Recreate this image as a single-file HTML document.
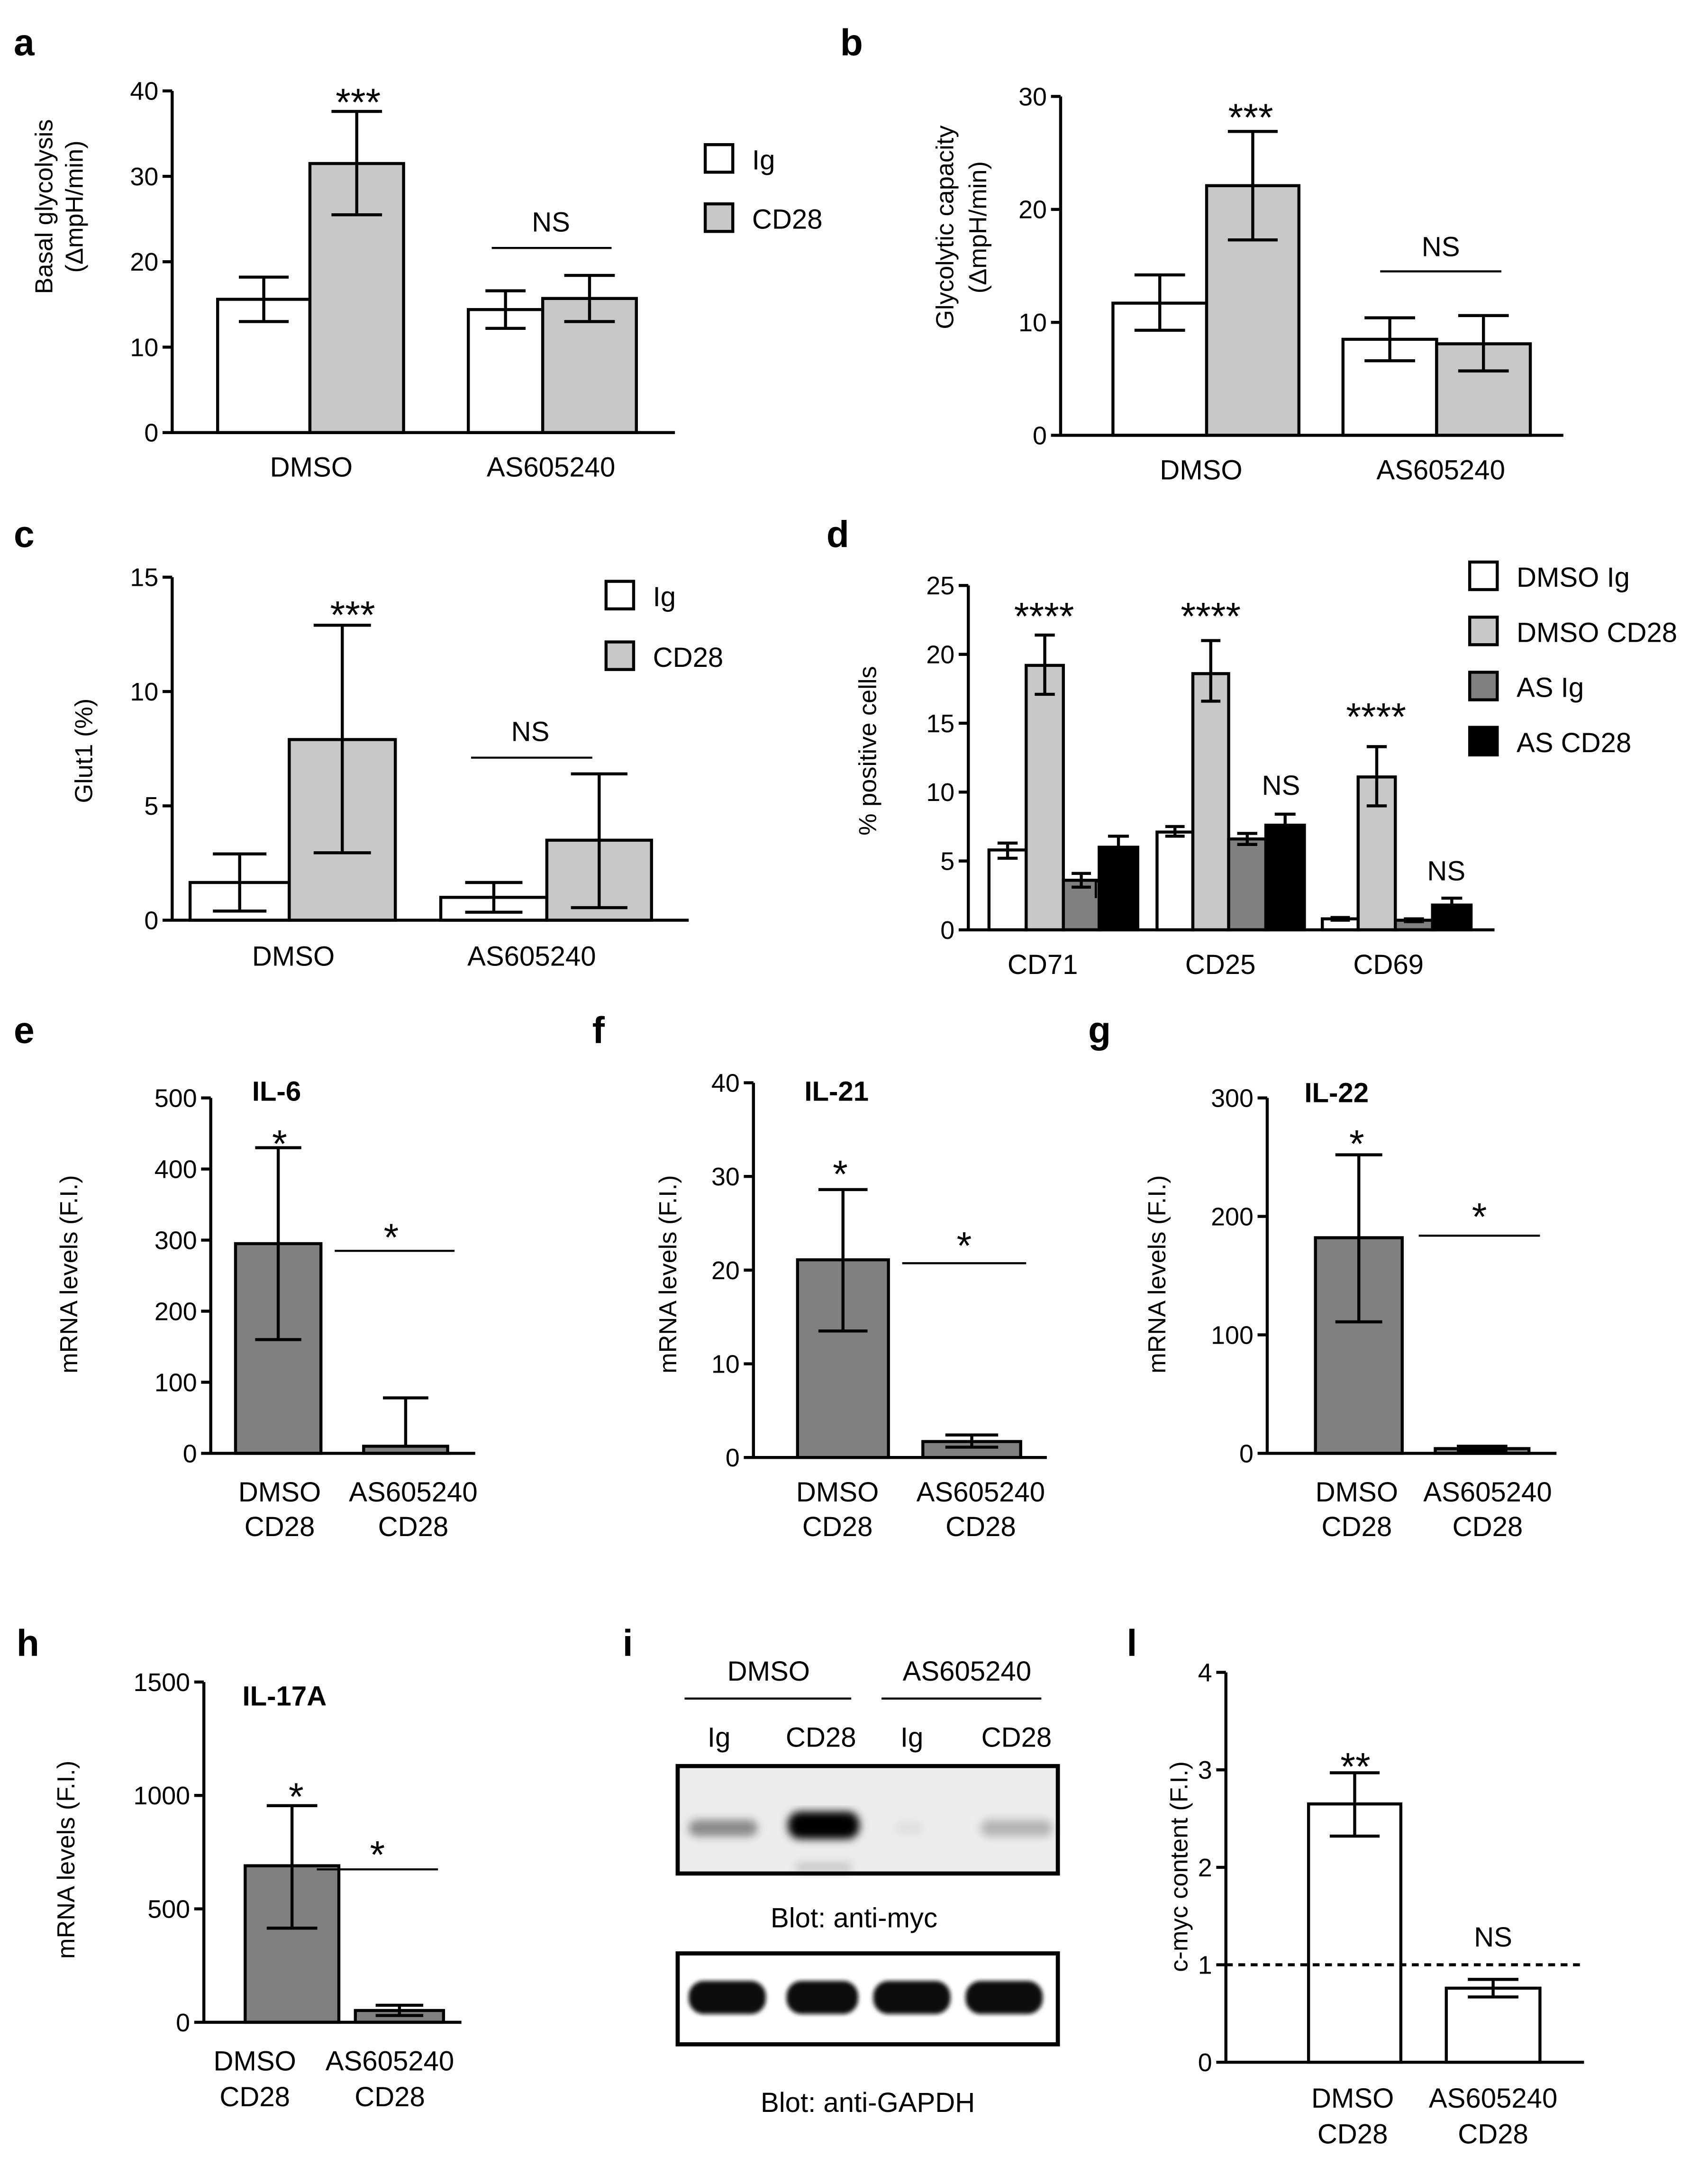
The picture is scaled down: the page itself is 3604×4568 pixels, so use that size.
<!DOCTYPE html>
<html><head><meta charset="utf-8"><style>
html,body{margin:0;padding:0;background:#fff}
svg{display:block}
text{font-family:"Liberation Sans",Arial,sans-serif;fill:#000}
</style></head><body>
<svg id="fig" width="3604" height="4568" viewBox="0 0 1240 1571.6" preserveAspectRatio="none" xmlns="http://www.w3.org/2000/svg">
<defs>
<filter id="blur3"><feGaussianBlur stdDeviation="3"/></filter>
<filter id="blur2"><feGaussianBlur stdDeviation="1.5"/></filter>
</defs>
<g id="static">
<text x="10" y="40" font-size="27" font-weight="bold">a</text>
<text x="610" y="40" font-size="27" font-weight="bold">b</text>
<text x="10" y="397" font-size="27" font-weight="bold">c</text>
<text x="600" y="397" font-size="27" font-weight="bold">d</text>
<text x="10" y="757" font-size="27" font-weight="bold">e</text>
<text x="430" y="757" font-size="27" font-weight="bold">f</text>
<text x="790" y="757" font-size="27" font-weight="bold">g</text>
<text x="12" y="1202" font-size="27" font-weight="bold">h</text>
<text x="452" y="1202" font-size="27" font-weight="bold">i</text>
<text x="818" y="1202" font-size="27" font-weight="bold">l</text>
</g>
<g id="blot">
<text x="558" y="1220" font-size="20" text-anchor="middle">DMSO</text>
<line x1="497" y1="1233" x2="618" y2="1233" stroke="#000" stroke-width="1.5"/>
<text x="702" y="1220" font-size="20" text-anchor="middle">AS605240</text>
<line x1="640" y1="1233" x2="756" y2="1233" stroke="#000" stroke-width="1.5"/>
<text x="522" y="1268" font-size="20" text-anchor="middle">Ig</text>
<text x="596" y="1268" font-size="20" text-anchor="middle">CD28</text>
<text x="662" y="1268" font-size="20" text-anchor="middle">Ig</text>
<text x="738" y="1268" font-size="20" text-anchor="middle">CD28</text>
<rect x="492" y="1282" width="276" height="78" fill="#ececec"/>
<g filter="url(#blur3)">
<rect x="500" y="1321" width="50" height="12" rx="6" fill="#8a8a8a"/>
<rect x="572" y="1315" width="52" height="20" rx="9" fill="#000"/>
<rect x="650" y="1323" width="20" height="8" rx="4" fill="#dedede"/>
<rect x="712" y="1321" width="52" height="12" rx="6" fill="#b4b4b4"/>
<rect x="578" y="1352" width="40" height="7" fill="#c8c8c8"/>
</g>
<rect x="492" y="1282" width="276" height="78" fill="none" stroke="#000" stroke-width="3"/>
<text x="620" y="1399" font-size="20" text-anchor="middle">Blot: anti-myc</text>
<rect x="492" y="1418" width="276" height="66" fill="#fff"/>
<g filter="url(#blur2)" fill="#0a0a0a">
<rect x="500" y="1438" width="56" height="24" rx="11"/>
<rect x="571" y="1438" width="52" height="24" rx="11"/>
<rect x="634" y="1438" width="56" height="24" rx="11"/>
<rect x="701" y="1438" width="56" height="24" rx="11"/>
</g>
<rect x="492" y="1418" width="276" height="66" fill="none" stroke="#000" stroke-width="3"/>
<text x="630" y="1533" font-size="20" text-anchor="middle">Blot: anti-GAPDH</text>
</g>
</svg>
<script>
// ===== data =====
const aCategories = ["DMSO","AS605240"];
const aValues = [15.6, 31.5, 14.4, 15.7];
const aLow = [13.0, 25.5, 12.2, 13.0];
const aHigh = [18.2, 37.6, 16.6, 18.4];
const aTicks = [0,10,20,30,40];

const bCategories = ["DMSO","AS605240"];
const bValues = [11.7, 22.1, 8.5, 8.1];
const bLow = [9.3, 17.3, 6.6, 5.7];
const bHigh = [14.2, 26.9, 10.4, 10.6];
const bTicks = [0,10,20,30];

const cCategories = ["DMSO","AS605240"];
const cValues = [1.65, 7.9, 1.0, 3.5];
const cLow = [0.4, 2.95, 0.35, 0.55];
const cHigh = [2.9, 12.9, 1.65, 6.4];
const cTicks = [0,5,10,15];

const dCategories = ["CD71","CD25","CD69"];
const dValues = [5.8, 19.2, 3.6, 6.0, 7.1, 18.6, 6.6, 7.6, 0.8, 11.1, 0.7, 1.8];
const dLow = [5.2, 17.1, 3.1, 5.3, 6.8, 16.6, 6.2, 6.9, 0.7, 9.0, 0.6, 1.3];
const dHigh = [6.3, 21.4, 4.1, 6.8, 7.5, 21.0, 7.0, 8.4, 0.9, 13.3, 0.8, 2.3];
const dTicks = [0,5,10,15,20,25];
const dSeries = ["DMSO Ig","DMSO CD28","AS Ig","AS CD28"];

const eValues = [295, 10]; const eLow = [160, 10]; const eHigh = [430, 78]; const eTicks = [0,100,200,300,400,500];
const fValues = [21.1, 1.7]; const fLow = [13.5, 1.1]; const fHigh = [28.6, 2.4]; const fTicks = [0,10,20,30,40];
const gValues = [182, 4]; const gLow = [111, 2]; const gHigh = [252, 6]; const gTicks = [0,100,200,300];
const hValues = [690, 52]; const hLow = [415, 30]; const hHigh = [955, 75]; const hTicks = [0,500,1000,1500];
const lValues = [2.65, 0.76]; const lLow = [2.32, 0.67]; const lHigh = [2.97, 0.85]; const lTicks = [0,1,2,3,4];
const lReference = 1;
const pairCategories = [["DMSO","CD28"],["AS605240","CD28"]];

// ===== drawing =====
const NS = "http://www.w3.org/2000/svg";
const svg = document.getElementById('fig');
function mk(tag, attrs, parent){
  const e = document.createElementNS(NS, tag);
  for (const k in attrs) e.setAttribute(k, attrs[k]);
  (parent||svg).appendChild(e);
  return e;
}
function txt(x,y,s,size,anchor,parent,extra){
  const t = mk('text',Object.assign({x:x,y:y,'font-size':size,'text-anchor':anchor||'middle'},extra||{}),parent);
  t.textContent = s;
  return t;
}
const FILL = {w:'#fff', l:'#c8c8c8', d:'#808080', k:'#000'};

function chart(name, L, values, low, high, ticks){
  const g = mk('g',{});
  
  
  const max = ticks[ticks.length-1];
  const y = v => L.yBot - (v/max)*(L.yBot-L.yTop);
  values.forEach((v,i)=>{
    const [x1,x2] = L.bars[i];
    const r = mk('rect',{x:x1,y:y(v),width:x2-x1,height:L.yBot-y(v),fill:FILL[L.fills[i]],stroke:'#000','stroke-width':2.2},g);
    
    
  });
  values.forEach((v,i)=>{
    const [x1,x2] = L.bars[i];
    const cx=(x1+x2)/2, cw=(x2-x1)*0.27;
    const eg = mk('g',{stroke:'#000','stroke-width':2.2},g);
    
    
    mk('line',{x1:cx,x2:cx,y1:y(low[i]),y2:y(high[i])},eg);
    mk('line',{x1:cx-cw,x2:cx+cw,y1:y(high[i]),y2:y(high[i])},eg);
    if (low[i] < v) mk('line',{x1:cx-cw,x2:cx+cw,y1:y(low[i]),y2:y(low[i])},eg);
  });
  const ax = mk('g',{stroke:'#000','stroke-width':2.2},g);
  
  
  mk('line',{x1:L.x0,x2:L.x0,y1:L.yTop,y2:L.yBot+1},ax);
  mk('line',{x1:L.x0,x2:L.xEnd,y1:L.yBot,y2:L.yBot},ax);
  ticks.forEach(t=>{
    mk('line',{x1:L.x0-7,x2:L.x0,y1:y(t),y2:y(t)},ax);
    const tl = txt(L.x0-10,y(t)+6.5,String(t),18.5,'end',g);
    
    
  });
  if (L.ytitle){
    L.ytitle.forEach((s,k)=>{
      const tt = txt(L.ytx[k],L.yty,s,18,'middle',g,{transform:'rotate(-90 '+L.ytx[k]+' '+L.yty+')'});
      
      
    });
  }
  return {g:g, y:y};
}

function catLabels(name, g, cats, xs, ys){
  cats.forEach((c,i)=>{
    const lines = Array.isArray(c)?c:[c];
    lines.forEach((s,k)=>{
      const t = txt(xs[i], ys[k], s, 20, 'middle', g);
      
      
    });
  });
}
function sig(g, x, y, s, size){
  const t = txt(x,y,s,size||28,'middle',g);
  
  
}
function hline(g,x1,x2,y){ mk('line',{x1:x1,x2:x2,y1:y,y2:y,stroke:'#000','stroke-width':1.5},g); }
function legend(g, x, ys, fills, labels){
  labels.forEach((s,i)=>{
    const r = mk('rect',{x:x,y:ys[i],width:20,height:20,fill:FILL[fills[i]],stroke:'#000','stroke-width':2.2},g);
    
    
    const t = txt(x+34, ys[i]+18, s, 20, 'start', g);
    
    
  });
}

// panel a
let P = chart('basal-glycolysis-chart',{x0:125,xEnd:490,yTop:66,yBot:314,bars:[[158,225],[225,293],[340,394],[394,462]],fills:['w','l','w','l'],ytitle:['Basal glycolysis','(ΔmpH/min)'],ytx:[38,60],yty:150},aValues,aLow,aHigh,aTicks);
catLabels('a',P.g,aCategories,[226,400],[346]);
sig(P.g,260,84,'***'); sig(P.g,400,168,'NS',20); hline(P.g,357,444,180);
legend(P.g,512,[105,148],['w','l'],['Ig','CD28']);

// panel b
P = chart('glycolytic-capacity-chart',{x0:770,xEnd:1135,yTop:70,yBot:316,bars:[[808,876],[876,943],[975,1043],[1043,1111]],fills:['w','l','w','l'],ytitle:['Glycolytic capacity','(ΔmpH/min)'],ytx:[692,716],yty:165},bValues,bLow,bHigh,bTicks);
catLabels('b',P.g,bCategories,[872,1046],[348]);
sig(P.g,908,95,'***'); sig(P.g,1046,186,'NS',20); hline(P.g,1002,1090,197);

// panel c
P = chart('glut1-chart',{x0:125,xEnd:500,yTop:419,yBot:668,bars:[[138,210],[210,287],[320,397],[397,473]],fills:['w','l','w','l'],ytitle:['Glut1 (%)'],ytx:[67],yty:545},cValues,cLow,cHigh,cTicks);
catLabels('c',P.g,cCategories,[213,386],[701]);
sig(P.g,256,456,'***'); sig(P.g,385,538,'NS',20); hline(P.g,342,430,550);
legend(P.g,440,[422,466],['w','l'],['Ig','CD28']);

// panel d
P = chart('positive-cells-chart',{x0:703,xEnd:1085,yTop:425,yBot:675,bars:[[718,745],[745,772],[772,798],[798,826],[840,866],[866,892],[892,919],[919,947],[960,986],[986,1013],[1013,1040],[1040,1068]],fills:['w','l','d','k','w','l','d','k','w','l','d','k'],ytitle:['% positive cells'],ytx:[636],yty:545},dValues,dLow,dHigh,dTicks);
catLabels('d',P.g,dCategories,[757,886,1008],[707]);
sig(P.g,758,457,'****'); sig(P.g,879,457,'****'); sig(P.g,999,530,'****');
sig(P.g,807,652,'NS',20); sig(P.g,930,577,'NS',20); sig(P.g,1050,639,'NS',20);
legend(P.g,1067,[408,448,488,528],['w','l','d','k'],dSeries);

// panel e
P = chart('il6-chart',{x0:153,xEnd:345,yTop:797,yBot:1055,bars:[[171,233],[264,325]],fills:['d','d'],ytitle:['mRNA levels  (F.I.)'],ytx:[56],yty:925},eValues,eLow,eHigh,eTicks);
catLabels('e',P.g,pairCategories,[203,300],[1090,1115]);
txt(183,799,'IL-6',20,'start',P.g,{'font-weight':'bold'});
sig(P.g,203,840,'*'); sig(P.g,284,908,'*'); hline(P.g,243,330,908);

// panel f
P = chart('il21-chart',{x0:547,xEnd:760,yTop:786,yBot:1058,bars:[[579,645],[670,741]],fills:['d','d'],ytitle:['mRNA levels  (F.I.)'],ytx:[491],yty:925},fValues,fLow,fHigh,fTicks);
catLabels('f',P.g,pairCategories,[608,712],[1090,1115]);
txt(584,799,'IL-21',20,'start',P.g,{'font-weight':'bold'});
sig(P.g,610,862,'*'); sig(P.g,700,914,'*'); hline(P.g,655,745,917);

// panel g
P = chart('il22-chart',{x0:920,xEnd:1130,yTop:797,yBot:1055,bars:[[955,1018],[1042,1110]],fills:['d','d'],ytitle:['mRNA levels  (F.I.)'],ytx:[846],yty:925},gValues,gLow,gHigh,gTicks);
catLabels('g',P.g,pairCategories,[985,1080],[1090,1115]);
txt(947,800,'IL-22',20,'start',P.g,{'font-weight':'bold'});
sig(P.g,985,840,'*'); sig(P.g,1074,893,'*'); hline(P.g,1030,1118,897);

// panel h
P = chart('il17a-chart',{x0:148,xEnd:335,yTop:1221,yBot:1468,bars:[[178,246],[258,322]],fills:['d','d'],ytitle:['mRNA levels  (F.I.)'],ytx:[54],yty:1350},hValues,hLow,hHigh,hTicks);
catLabels('h',P.g,pairCategories,[185,283],[1503,1529]);
txt(176,1238,'IL-17A',20,'start',P.g,{'font-weight':'bold'});
sig(P.g,215,1314,'*'); sig(P.g,274,1356,'*'); hline(P.g,230,318,1357);

// panel l
P = chart('cmyc-content-chart',{x0:890,xEnd:1150,yTop:1214,yBot:1497,bars:[[950,1017],[1050,1118]],fills:['w','w'],ytitle:['c-myc content (F.I.)'],ytx:[862],yty:1355},lValues,lLow,lHigh,lTicks);
catLabels('l',P.g,pairCategories,[982,1084],[1530,1556]);
const ref = mk('line',{x1:890,x2:1150,y1:P.y(lReference),y2:P.y(lReference),stroke:'#000','stroke-width':2.2,'stroke-dasharray':'5,4'},P.g);


sig(P.g,984,1292,'**'); sig(P.g,1084,1413,'NS',20);
</script>
</body></html>
